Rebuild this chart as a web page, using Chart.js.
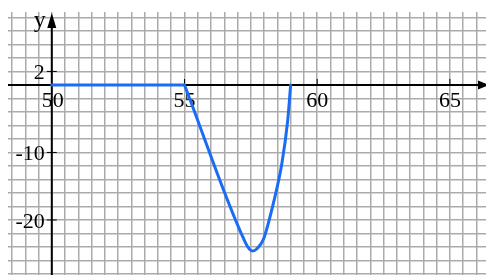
<!DOCTYPE html>
<html>
<head>
<meta charset="utf-8">
<script src="https://cdn.jsdelivr.net/npm/chart.js@4/dist/chart.umd.min.js"></script>
<style>
  html, body { margin: 0; padding: 0; background: #fff; }
  #wrap { width: 486px; height: 275px; }
</style>
</head>
<body>
<div id="wrap"><canvas id="graph"></canvas></div>
<script>
// data
const flatX = [50, 55];
const flatY = [0, 0];
const dipX = [55, 57.3, 57.45, 57.57, 57.72, 57.97, 58.35, 58.67, 58.89, 59];
const dipY = [0, -23.4, -24.35, -24.6, -24.3, -22.9, -17.5, -11.6, -5.2, 0];

const xLabels = [50, 55, 60, 65];
const yLabels = [2, -10, -20];

// window of the grid
const xMin = 48.35, xMax = 66.36;
const yMin = -28.15, yMax = 10.8;
const xStep = 0.5, yStep = 2;

function toPoints(xs, ys) {
  return xs.map((x, i) => ({ x: x, y: ys[i] }));
}

function gridTicks(min, max, step) {
  const out = [];
  for (let v = Math.ceil(min / step) * step; v <= max + 1e-9; v += step) {
    out.push({ value: Math.round(v * 100) / 100 });
  }
  return out;
}

//plugin for axes, arrows and labels
const axesPlugin = {
  id: "axes",
  beforeDatasetsDraw(chart) {
    const ctx = chart.ctx;
    const xs = chart.scales.x;
    const ys = chart.scales.y;
    const area = chart.chartArea;
    const ox = xs.getPixelForValue(50);
    const oy = ys.getPixelForValue(0);

    ctx.save();
    ctx.strokeStyle = "#000";
    ctx.fillStyle = "#000";
    ctx.lineWidth = 2;

    // x axis
    ctx.beginPath();
    ctx.moveTo(area.left, oy);
    ctx.lineTo(area.right - 4, oy);
    ctx.stroke();
    ctx.beginPath();
    ctx.moveTo(area.right + 3, oy);
    ctx.lineTo(area.right - 8, oy - 4.5);
    ctx.lineTo(area.right - 8, oy + 4.5);
    ctx.closePath();
    ctx.fill();

    // y axis
    ctx.beginPath();
    ctx.moveTo(ox, area.bottom);
    ctx.lineTo(ox, 24);
    ctx.stroke();
    ctx.beginPath();
    ctx.moveTo(ox, 13);
    ctx.lineTo(ox - 4.5, 28);
    ctx.lineTo(ox + 4.5, 28);
    ctx.closePath();
    ctx.fill();

    // tick marks
    ctx.lineWidth = 1;
    xLabels.forEach(v => {
      if (v === 50) return;
      const px = xs.getPixelForValue(v);
      ctx.beginPath();
      ctx.moveTo(px, oy - 6);
      ctx.lineTo(px, oy + 1);
      ctx.stroke();
    });
    yLabels.forEach(v => {
      const py = ys.getPixelForValue(v);
      ctx.beginPath();
      ctx.moveTo(ox - 5, py);
      ctx.lineTo(ox + 5, py);
      ctx.stroke();
    });

    // labels
    ctx.font = "22px 'Liberation Serif', 'DejaVu Serif', serif";
    ctx.textAlign = "center";
    ctx.textBaseline = "alphabetic";
    xLabels.forEach(v => {
      const px = xs.getPixelForValue(v);
      ctx.fillText(String(v), px + (v === 50 ? 1 : 0), oy + 22);
    });
    ctx.textAlign = "right";
    ctx.textBaseline = "middle";
    yLabels.forEach(v => {
      const py = ys.getPixelForValue(v);
      ctx.fillText(String(v), ox - 7, py + 2);
    });

    ctx.font = "24px 'Liberation Serif', 'DejaVu Serif', serif";
    ctx.textAlign = "center";
    ctx.textBaseline = "alphabetic";
    ctx.fillText("y", ox - 12, 27);
    ctx.fillText("x", area.right + 7, oy + 24);
    ctx.restore();
  }
};

const canvas = document.getElementById("graph");
const lineStyle = {
  borderColor: "#1a6cf5",
  borderWidth: 3,
  pointRadius: 0,
  fill: false,
  borderCapStyle: "round",
  borderJoinStyle: "round"
};

new Chart(canvas, {
  type: "scatter",
  data: {
    datasets: [
      Object.assign({ data: toPoints(flatX, flatY), showLine: true }, lineStyle),
      Object.assign({ data: toPoints(dipX, dipY), showLine: true, cubicInterpolationMode: "monotone" }, lineStyle)
    ]
  },
  options: {
    responsive: true,
    maintainAspectRatio: false,
    animation: false,
    layout: { padding: { left: 8, top: 12, right: 0, bottom: 0 } },
    plugins: { legend: { display: false }, tooltip: { enabled: false } },
    scales: {
      x: {
        type: "linear",
        min: xMin,
        max: xMax,
        afterBuildTicks: scale => { scale.ticks = gridTicks(xMin, xMax, xStep); },
        afterFit: scale => { scale.height = 0; },
        ticks: { display: false },
        border: { display: false },
        grid: { color: "#ababab", lineWidth: 1.5, drawTicks: false }
      },
      y: {
        type: "linear",
        min: yMin,
        max: yMax,
        afterBuildTicks: scale => { scale.ticks = gridTicks(yMin, yMax, yStep); },
        afterFit: scale => { scale.width = 0; },
        ticks: { display: false },
        border: { display: false },
        grid: { color: "#ababab", lineWidth: 1.5, drawTicks: false }
      }
    }
  },
  plugins: [axesPlugin]
});
</script>
</body>
</html>
